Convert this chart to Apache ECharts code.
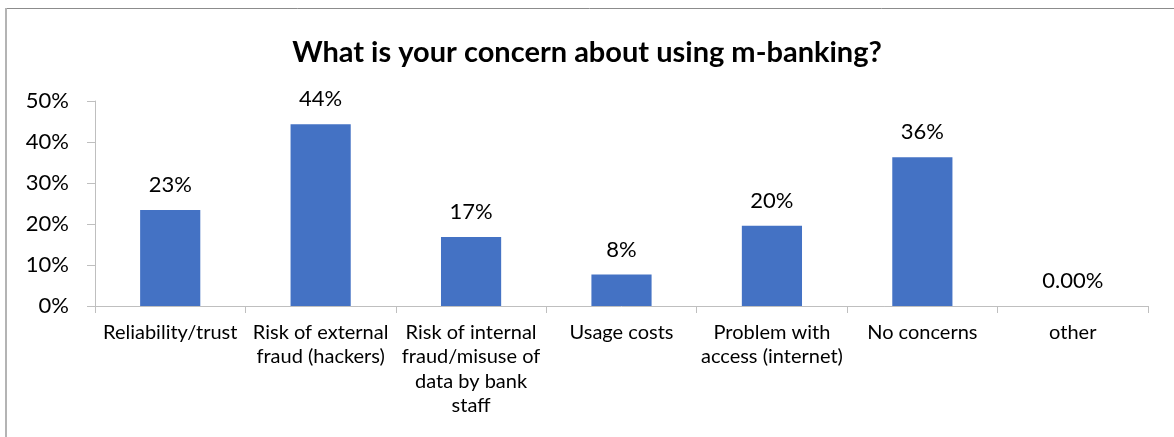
<!DOCTYPE html>
<html>
<head>
<meta charset="utf-8">
<style>
  html, body { margin: 0; padding: 0; background: #ffffff; }
  #chart { width: 1174px; height: 437px; }
</style>
<script src="https://cdn.jsdelivr.net/npm/echarts@6/dist/echarts.min.js"></script>
</head>
<body>
<div id="chart"></div>
<script>
// Survey answers: share of respondents per concern (percent)
const chartTitle = 'What is your concern about using m-banking?';
const categories = [
  'Reliability/trust',
  'Risk of external\nfraud (hackers)',
  'Risk of internal\nfraud/misuse of\ndata by bank\nstaff',
  'Usage costs',
  'Problem with\naccess (internet)',
  'No concerns',
  'other'
];
const shares = [23.4, 44.3, 16.8, 7.7, 19.6, 36.3, 0];
// Number of decimals shown in each bar's value label
const labelDecimals = [0, 0, 0, 0, 0, 0, 2];
const yTicks = { min: 0, max: 50, step: 10 };

const FONT = 'Lato, "Open Sans", sans-serif';
const chart = echarts.init(document.getElementById('chart'), null, { renderer: 'canvas' });

chart.setOption({
  backgroundColor: '#ffffff',
  animation: false,
  title: {
    text: chartTitle,
    left: 'center',
    top: 33,
    textStyle: { fontFamily: FONT, fontWeight: 'bold', fontSize: 29, color: '#000000' }
  },
  graphic: [
    // chart area frame (top and left edges)
    { type: 'line', shape: { x1: 5, y1: 8.5, x2: 1174, y2: 8.5 }, style: { stroke: '#8c8c8c', lineWidth: 1 } },
    { type: 'line', shape: { x1: 6, y1: 8, x2: 6, y2: 437 }, style: { stroke: '#b4b4b4', lineWidth: 2 } }
  ],
  grid: { left: 95, right: 26, top: 101, bottom: 131, containLabel: false },
  xAxis: {
    type: 'category',
    data: categories,
    axisLine: { lineStyle: { color: '#bfbfbf', width: 1 } },
    axisTick: { show: true, length: 7, lineStyle: { color: '#bfbfbf' } },
    axisLabel: {
      interval: 0,
      margin: 14,
      fontFamily: FONT,
      fontSize: 20,
      lineHeight: 24.5,
      color: '#000000',
      align: 'center'
    }
  },
  yAxis: {
    type: 'value',
    min: yTicks.min,
    max: yTicks.max,
    interval: yTicks.step,
    axisLine: { show: true, lineStyle: { color: '#bfbfbf', width: 1 } },
    axisTick: { show: true, length: 8, lineStyle: { color: '#bfbfbf' } },
    splitLine: { show: false },
    axisLabel: {
      margin: 26,
      fontFamily: FONT,
      fontSize: 22,
      color: '#000000',
      formatter: '{value}%'
    }
  },
  series: [{
    type: 'bar',
    data: shares,
    barWidth: '40%',
    itemStyle: { color: '#4472C4' },
    label: {
      show: true,
      position: 'top',
      distance: 14,
      fontFamily: FONT,
      fontSize: 22,
      color: '#000000',
      formatter: p => p.value.toFixed(labelDecimals[p.dataIndex]) + '%'
    }
  }]
});
</script>
</body>
</html>
